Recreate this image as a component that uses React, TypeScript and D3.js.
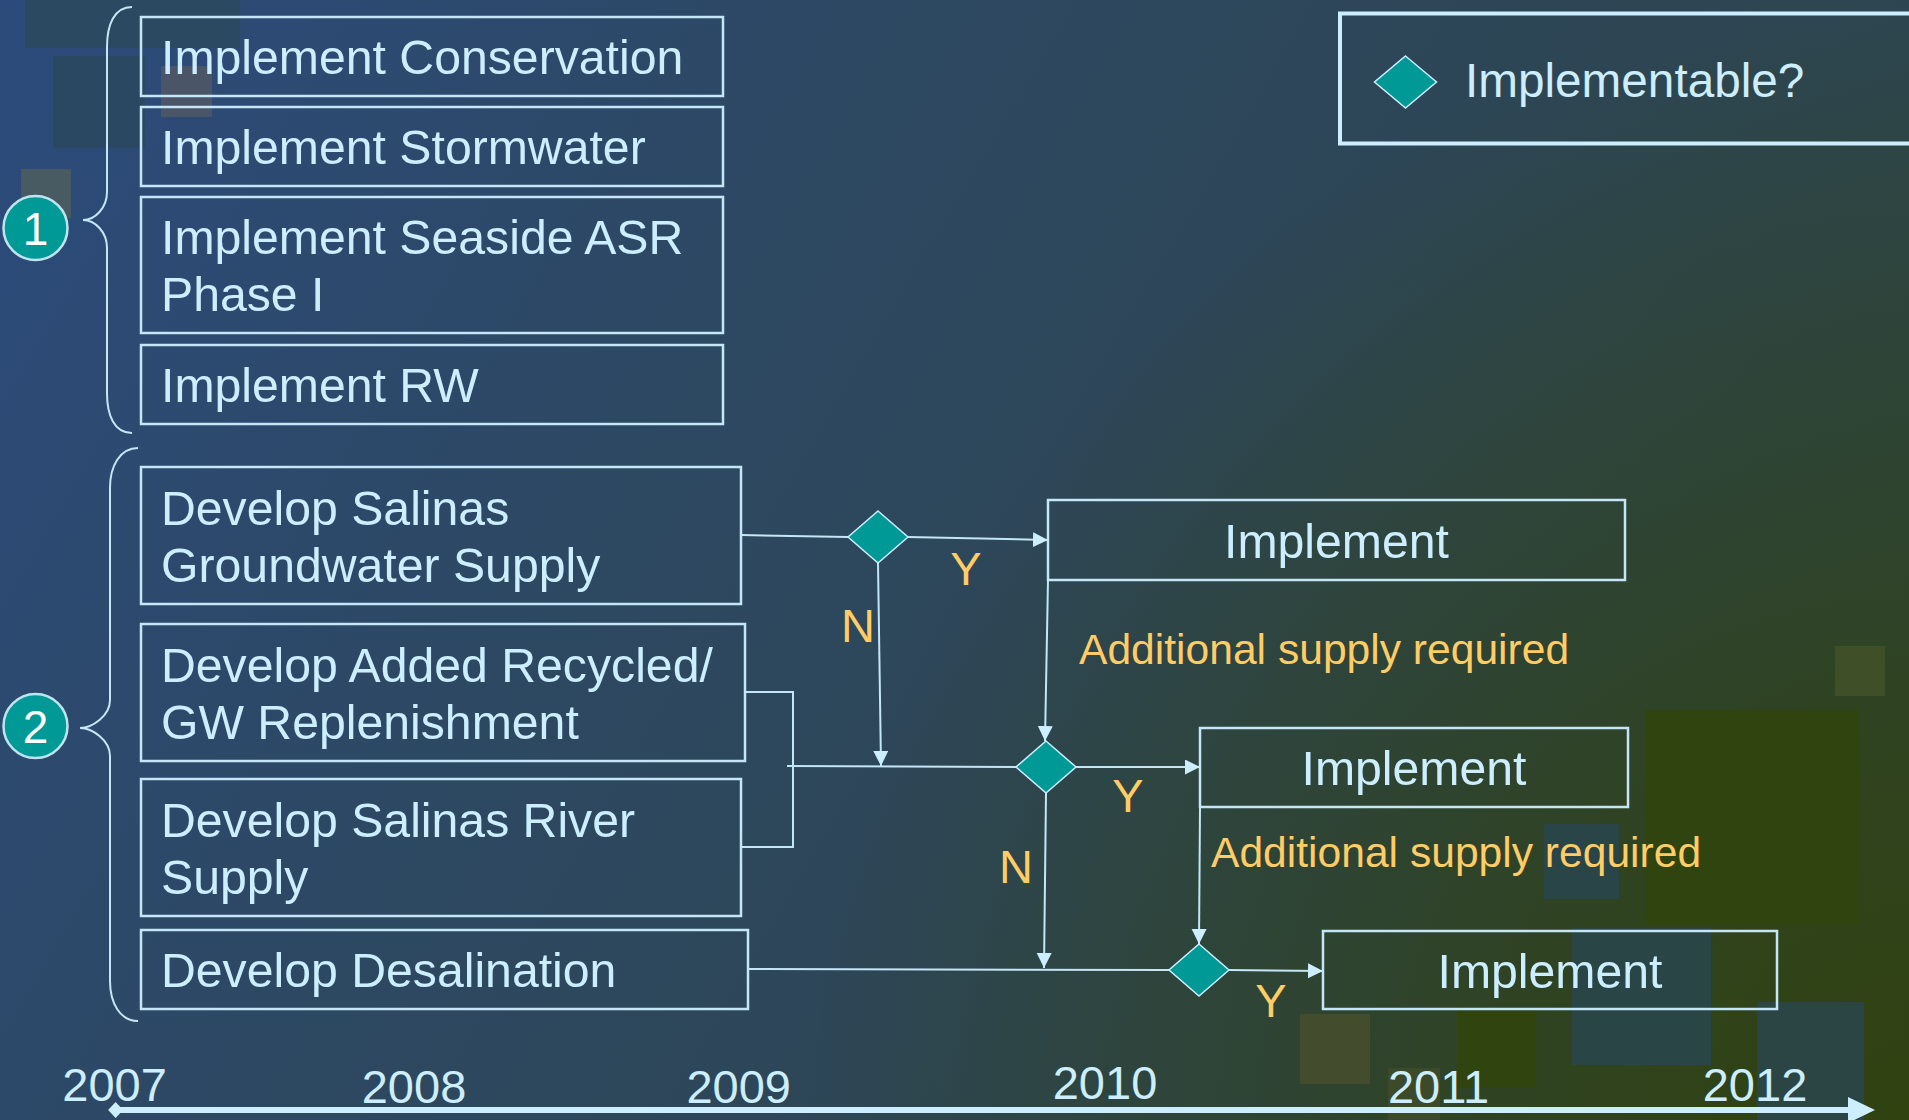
import React from "react";
import * as d3 from "d3";

// ---------- data ----------
const group1Labels: string[][] = [
  ["Implement Conservation"],
  ["Implement Stormwater"],
  ["Implement Seaside ASR", "Phase I"],
  ["Implement RW"],
];
const group2Labels: string[][] = [
  ["Develop Salinas", "Groundwater Supply"],
  ["Develop Added Recycled/", "GW Replenishment"],
  ["Develop Salinas River", "Supply"],
  ["Develop Desalination"],
];
const groupNumbers = ["1", "2"];
const implementLabels = ["Implement", "Implement", "Implement"];
const yesLabels = ["Y", "Y", "Y"];
const noLabels = ["N", "N"];
const noteLabels = ["Additional supply required", "Additional supply required"];
const legendLabel = "Implementable?";
const years = [2007, 2008, 2009, 2010, 2011, 2012];

// ---------- layout ----------
const W = 1909;
const H = 1120;
const FONT = "'Liberation Sans', Arial, Helvetica, sans-serif";
const TXT = "#CCEEFF";
const LINE = "#C4E6F6";
const ORANGE = "#FFCC66";
const TEAL = "#009996";

const g1Boxes = [
  { x0: 141, x1: 723, y0: 17, y1: 96 },
  { x0: 141, x1: 723, y0: 107, y1: 186 },
  { x0: 141, x1: 723, y0: 197, y1: 333 },
  { x0: 141, x1: 723, y0: 345, y1: 424 },
];
const g2Boxes = [
  { x0: 141, x1: 741, y0: 467, y1: 604 },
  { x0: 141, x1: 745, y0: 624, y1: 761 },
  { x0: 141, x1: 741, y0: 779, y1: 916 },
  { x0: 141, x1: 748, y0: 930, y1: 1009 },
];
const implBoxes = [
  { x0: 1048, x1: 1625, y0: 500, y1: 580 },
  { x0: 1200, x1: 1628, y0: 728, y1: 807 },
  { x0: 1323, x1: 1777, y0: 931, y1: 1009 },
];
const diamonds = [
  { cx: 878, cy: 537 },
  { cx: 1046, cy: 767 },
  { cx: 1199, cy: 970 },
];
const DHW = 30;
const DHH = 26;
const yesPos = [
  { x: 966, y: 585 },
  { x: 1128, y: 812 },
  { x: 1271, y: 1017 },
];
const noPos = [
  { x: 858, y: 642 },
  { x: 1016, y: 883 },
];
const notePos = [
  { x: 1079, y: 664 },
  { x: 1211, y: 867 },
];
const yearX = [114.6, 414, 738.7, 1105, 1438.5, 1755];
const yearBaseline = [1101, 1103, 1103, 1099, 1103, 1101];

const decoRects = [
  { x: 25, y: 0, w: 215, h: 48, c: "#2B4A62" },
  { x: 53, y: 56, w: 92, h: 92, c: "#2B4862" },
  { x: 161, y: 66, w: 51, h: 51, c: "#4A5568" },
  { x: 21, y: 169, w: 50, h: 49, c: "#485A62" },
  { x: 1645, y: 710, w: 214, h: 215, c: "#2F440F" },
  { x: 1835, y: 646, w: 50, h: 50, c: "#3F4F28" },
  { x: 1544, y: 824, w: 75, h: 75, c: "#2A4548" },
  { x: 1572, y: 928, w: 139, h: 137, c: "#2A4546" },
  { x: 1757, y: 1002, w: 107, h: 118, c: "#2A4543" },
  { x: 1300, y: 1014, w: 70, h: 70, c: "#434C2C" },
  { x: 1458, y: 1010, w: 78, h: 78, c: "#2F440F" },
  { x: 1388, y: 1068, w: 52, h: 52, c: "#3D4A2A" },
];

function Box({ b, lines, align }: { b: any; lines: string[]; align: "left" | "center" }) {
  const cy = (b.y0 + b.y1) / 2;
  const lh = 57;
  const first = cy - ((lines.length - 1) * lh) / 2 + 17.5;
  const tx = align === "left" ? b.x0 + 20 : (b.x0 + b.x1) / 2;
  return (
    <g>
      <rect x={b.x0} y={b.y0} width={b.x1 - b.x0} height={b.y1 - b.y0} fill="none" stroke={LINE} strokeWidth={2.5} />
      {lines.map((l, i) => (
        <text key={i} x={tx} y={first + i * lh} fill={TXT} fontSize={48.2} fontFamily={FONT}
          textAnchor={align === "left" ? "start" : "middle"}>{l}</text>
      ))}
    </g>
  );
}

function diamondPath(cx: number, cy: number, hw: number, hh: number) {
  return d3.line()([[cx, cy - hh], [cx + hw, cy], [cx, cy + hh], [cx - hw, cy]]) + "Z";
}

function brace(xEnd: number, xSpine: number, xTip: number, yTop: number, yMid: number, yBot: number) {
  const p = d3.path();
  p.moveTo(xEnd, yTop);
  p.bezierCurveTo(xEnd - 18, yTop, xSpine, yTop + 18, xSpine, yTop + 40);
  p.lineTo(xSpine, yMid - 28);
  p.bezierCurveTo(xSpine, yMid - 12, xTip + 12, yMid, xTip, yMid);
  p.bezierCurveTo(xTip + 12, yMid, xSpine, yMid + 12, xSpine, yMid + 28);
  p.lineTo(xSpine, yBot - 40);
  p.bezierCurveTo(xSpine, yBot - 18, xEnd - 18, yBot, xEnd, yBot);
  return p.toString();
}

export default function App() {
  const xYear = d3.scaleLinear().domain(years).range(yearX);
  const ln = d3.line();
  const D = diamonds;
  const conns: { pts: [number, number][]; arrow: boolean }[] = [
    { pts: [[741, 535], [D[0].cx - DHW, D[0].cy]], arrow: false },
    { pts: [[D[0].cx + DHW, D[0].cy], [implBoxes[0].x0, 540]], arrow: true },
    { pts: [[D[0].cx, D[0].cy + DHH], [881, 766]], arrow: true },
    { pts: [[745, 692], [793, 692], [793, 847], [741, 847]], arrow: false },
    { pts: [[787, 766], [D[1].cx - DHW, D[1].cy]], arrow: false },
    { pts: [[implBoxes[0].x0, implBoxes[0].y1], [D[1].cx - 1, D[1].cy - DHH]], arrow: true },
    { pts: [[D[1].cx + DHW, D[1].cy], [implBoxes[1].x0, D[1].cy]], arrow: true },
    { pts: [[D[1].cx, D[1].cy + DHH], [1044, 968]], arrow: true },
    { pts: [[748, 969], [D[2].cx - DHW, D[2].cy]], arrow: false },
    { pts: [[implBoxes[1].x0, implBoxes[1].y1], [D[2].cx, D[2].cy - DHH]], arrow: true },
    { pts: [[D[2].cx + DHW, D[2].cy], [implBoxes[2].x0, 971]], arrow: true },
  ];

  return (
    <svg width={W} height={H} style={{ position: "fixed", left: 0, top: 0, display: "block" }}>
      <defs>
        <linearGradient id="bg" gradientUnits="userSpaceOnUse" x1={0} y1={0} x2={W} y2={H}>
          <stop offset="0" stopColor="#2C4B7C" />
          <stop offset="0.35" stopColor="#2D4862" />
          <stop offset="0.6" stopColor="#2D4656" />
          <stop offset="0.8" stopColor="#2D454C" />
          <stop offset="1" stopColor="#2E4540" />
        </linearGradient>
        <radialGradient id="olive" gradientUnits="userSpaceOnUse" cx={W} cy={H} r={1100}>
          <stop offset="0" stopColor="#304210" stopOpacity={1} />
          <stop offset="0.3" stopColor="#304210" stopOpacity={0.75} />
          <stop offset="1" stopColor="#304210" stopOpacity={0} />
        </radialGradient>
        <marker id="arr" markerUnits="userSpaceOnUse" markerWidth={16} markerHeight={16}
          refX={15} refY={7.5} orient="auto" viewBox="0 0 16 16">
          <path d="M0,0 L15,7.5 L0,15 Z" fill={TXT} />
        </marker>
      </defs>
      <rect x={0} y={0} width={W} height={H} fill="url(#bg)" />
      <rect x={0} y={0} width={W} height={H} fill="url(#olive)" />
      {decoRects.map((r, i) => (
        <rect key={i} x={r.x} y={r.y} width={r.w} height={r.h} fill={r.c} />
      ))}

      {/* braces and group numbers */}
      <path d={brace(132, 107, 83, 7, 220, 433)} fill="none" stroke={LINE} strokeWidth={2} />
      <path d={brace(138, 110, 80, 448, 728, 1021)} fill="none" stroke={LINE} strokeWidth={2} />
      {[228, 726].map((cy, i) => (
        <g key={i}>
          <circle cx={35.5} cy={cy} r={32} fill={TEAL} stroke="#BFE4F0" strokeWidth={2.5} />
          <text x={35.5} y={cy + 16.5} fill="#FFFFFF" fontSize={46} fontFamily={FONT} textAnchor="middle">{groupNumbers[i]}</text>
        </g>
      ))}

      {g1Boxes.map((b, i) => <Box key={"a" + i} b={b} lines={group1Labels[i]} align="left" />)}
      {g2Boxes.map((b, i) => <Box key={"b" + i} b={b} lines={group2Labels[i]} align="left" />)}
      {implBoxes.map((b, i) => <Box key={"c" + i} b={b} lines={[implementLabels[i]]} align="center" />)}

      {conns.map((c, i) => (
        <path key={i} d={ln(c.pts) || ""} fill="none" stroke={LINE} strokeWidth={2}
          markerEnd={c.arrow ? "url(#arr)" : undefined} />
      ))}

      {diamonds.map((d, i) => (
        <path key={i} d={diamondPath(d.cx, d.cy, DHW, DHH)} fill={TEAL} stroke={TXT} strokeWidth={1.5} />
      ))}

      {yesLabels.map((l, i) => (
        <text key={"y" + i} x={yesPos[i].x} y={yesPos[i].y} fill={ORANGE} fontSize={47} fontFamily={FONT} textAnchor="middle">{l}</text>
      ))}
      {noLabels.map((l, i) => (
        <text key={"n" + i} x={noPos[i].x} y={noPos[i].y} fill={ORANGE} fontSize={47} fontFamily={FONT} textAnchor="middle">{l}</text>
      ))}
      {noteLabels.map((l, i) => (
        <text key={"t" + i} x={notePos[i].x} y={notePos[i].y} fill={ORANGE} fontSize={42.6} fontFamily={FONT}>{l}</text>
      ))}

      {/* legend */}
      <rect x={1340} y={13.5} width={600} height={130} fill="none" stroke={TXT} strokeWidth={4} />
      <path d={diamondPath(1405.5, 82, 31, 26)} fill={TEAL} stroke={TXT} strokeWidth={1.5} />
      <text x={1465} y={96.5} fill={TXT} fontSize={47.7} fontFamily={FONT}>{legendLabel}</text>

      {/* time axis */}
      <line x1={xYear(2007) + 1} y1={1110} x2={1850} y2={1110} stroke={TXT} strokeWidth={6} />
      <path d={diamondPath(xYear(2007) + 1, 1110, 7.5, 8)} fill={TXT} />
      <path d="M1848,1097 L1875,1110 L1848,1123 Z" fill={TXT} />
      {years.map((y, i) => (
        <text key={y} x={xYear(y)} y={yearBaseline[i]} fill={TXT} fontSize={47} fontFamily={FONT} textAnchor="middle">{y}</text>
      ))}
    </svg>
  );
}
